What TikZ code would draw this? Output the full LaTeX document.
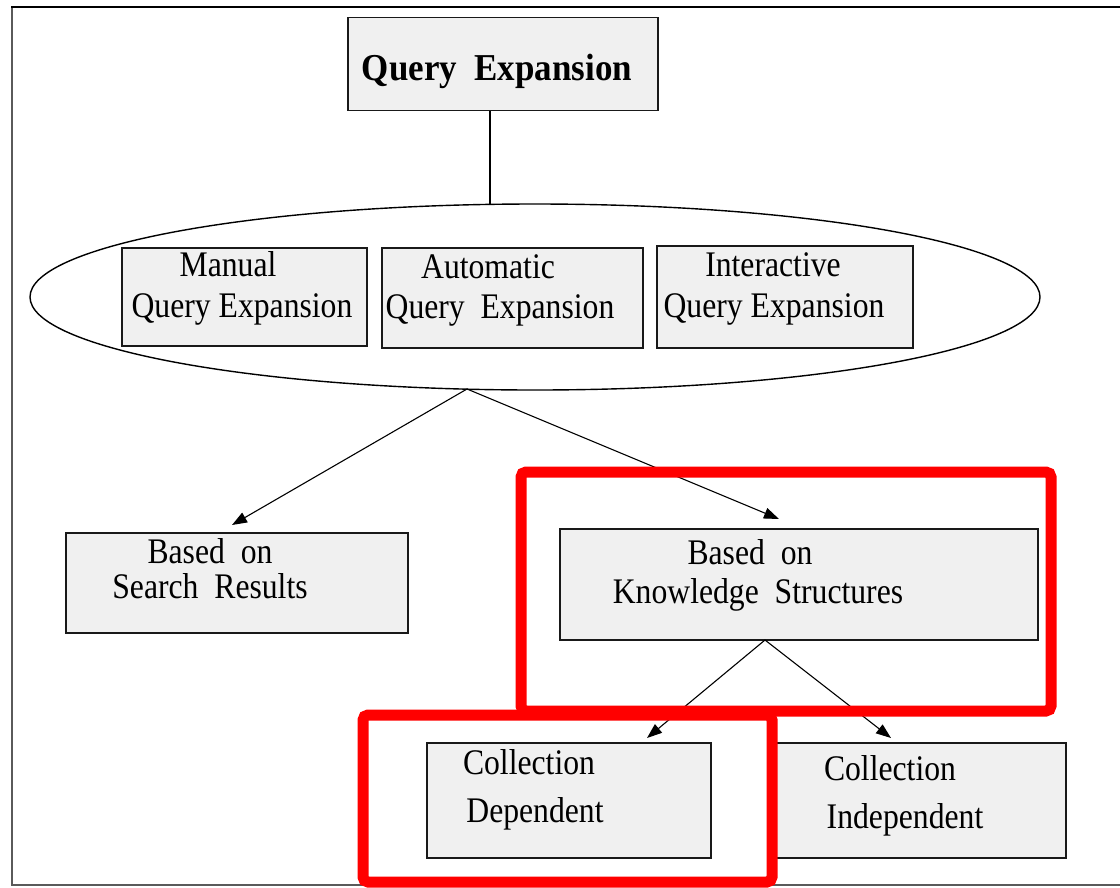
\documentclass[tikz,border=0pt]{standalone}
\usepackage{fontspec}
\setmainfont{Liberation Serif}
\usetikzlibrary{arrows.meta,shapes.geometric}
\definecolor{boxfill}{HTML}{F0F0F0}
\definecolor{framegray}{HTML}{5A5A5A}
\definecolor{hlred}{HTML}{FF0000}
\newcommand{\condtext}[1]{\scalebox{0.88}[1]{\fontsize{36}{36}\selectfont #1}}
\newcommand{\condtitle}[1]{\scalebox{0.92}[1]{\fontsize{38}{38}\selectfont\bfseries #1}}
\tikzset{
  gbox/.style={draw=black!90, line width=1.8pt, fill=boxfill, rectangle, inner sep=0pt},
  lbl/.style={anchor=base, inner sep=0pt},
  conn/.style={draw=black, line width=1.1pt, -{Triangle[length=15pt,width=11pt]}},
  hl/.style={draw=hlred, line width=11pt, rounded corners=5pt}
}
\begin{document}
\begin{tikzpicture}[x=1pt,y=-1pt]
\useasboundingbox (0,0) rectangle (1120,887);
% outer frame
\draw[framegray, line width=1.5pt] (1125,885) -- (12,885) -- (12,7);
\draw[black, line width=2.2pt] (11,7) -- (1125,7);

% top box
\node[gbox, minimum width=310pt, minimum height=93pt] (qe) at (503,64) {};
\node[lbl] (qet) at (497,80) {\condtitle{Query\ \ Expansion}};

% ellipse
\node[ellipse, draw=black, line width=1.4pt, minimum width=1010pt, minimum height=186pt, inner sep=0pt] (ell) at (535,297) {};
\coordinate (vtop) at (490,205);
\draw[black, line width=1.4pt] (qe.south -| vtop) -- (vtop);

% three boxes in ellipse
\node[gbox, minimum width=245pt, minimum height=98pt] (man) at (244.5,297) {};
\node[gbox, minimum width=261pt, minimum height=100pt] (aut) at (512.5,298) {};
\node[gbox, minimum width=256pt, minimum height=102pt] (int) at (785,297) {};
\node[lbl] (man1) at (228,276) {\condtext{Manual}};
\node[lbl] (man2) at (242,317) {\condtext{Query Expansion}};
\node[lbl] (aut1) at (488,278) {\condtext{Automatic}};
\node[lbl] (aut2) at (500,318) {\condtext{Query\ \ Expansion}};
\node[lbl] (int1) at (773,276) {\condtext{Interactive}};
\node[lbl] (int2) at (774,317) {\condtext{Query Expansion}};

% second level
\node[gbox, minimum width=342pt, minimum height=100pt] (sr) at (237,583) {};
\node[lbl] (sr1) at (210,563) {\condtext{Based\ \ on}};
\node[lbl] (sr2) at (210,598) {\condtext{Search\ \ Results}};
\node[gbox, minimum width=478pt, minimum height=111pt] (ks) at (799,584.5) {};
\node[lbl] (ks1) at (750,564) {\condtext{Based\ \ on}};
\node[lbl] (ks2) at (758,603) {\condtext{Knowledge\ \ Structures}};

% third level
\node[gbox, minimum width=284pt, minimum height=115pt] (cd) at (569,800.5) {};
\node[lbl] (cd1) at (529,774) {\condtext{Collection}};
\node[lbl] (cd2) at (535,822) {\condtext{Dependent}};
\node[gbox, minimum width=294pt, minimum height=115pt] (ci) at (919,800.5) {};
\node[lbl] (ci1) at (890,780) {\condtext{Collection}};
\node[lbl] (ci2) at (905,828) {\condtext{Independent}};

% connectors
\coordinate (fork) at (467,389);
\coordinate (tsr) at (232,525);
\coordinate (tks) at (779,519);
\coordinate (kfork) at (765,640);
\coordinate (tcd) at (647,738);
\coordinate (tci) at (891,738);
\draw[conn] (fork) -- (tsr);
\draw[conn] (fork) -- (tks);
\draw[conn] (kfork) -- (tcd);
\draw[conn] (kfork) -- (tci);

% red highlights
\draw[hl] (363,715) rectangle (772,882);
\draw[hl] (521,472) rectangle (1051,711);
\end{tikzpicture}
\end{document}
